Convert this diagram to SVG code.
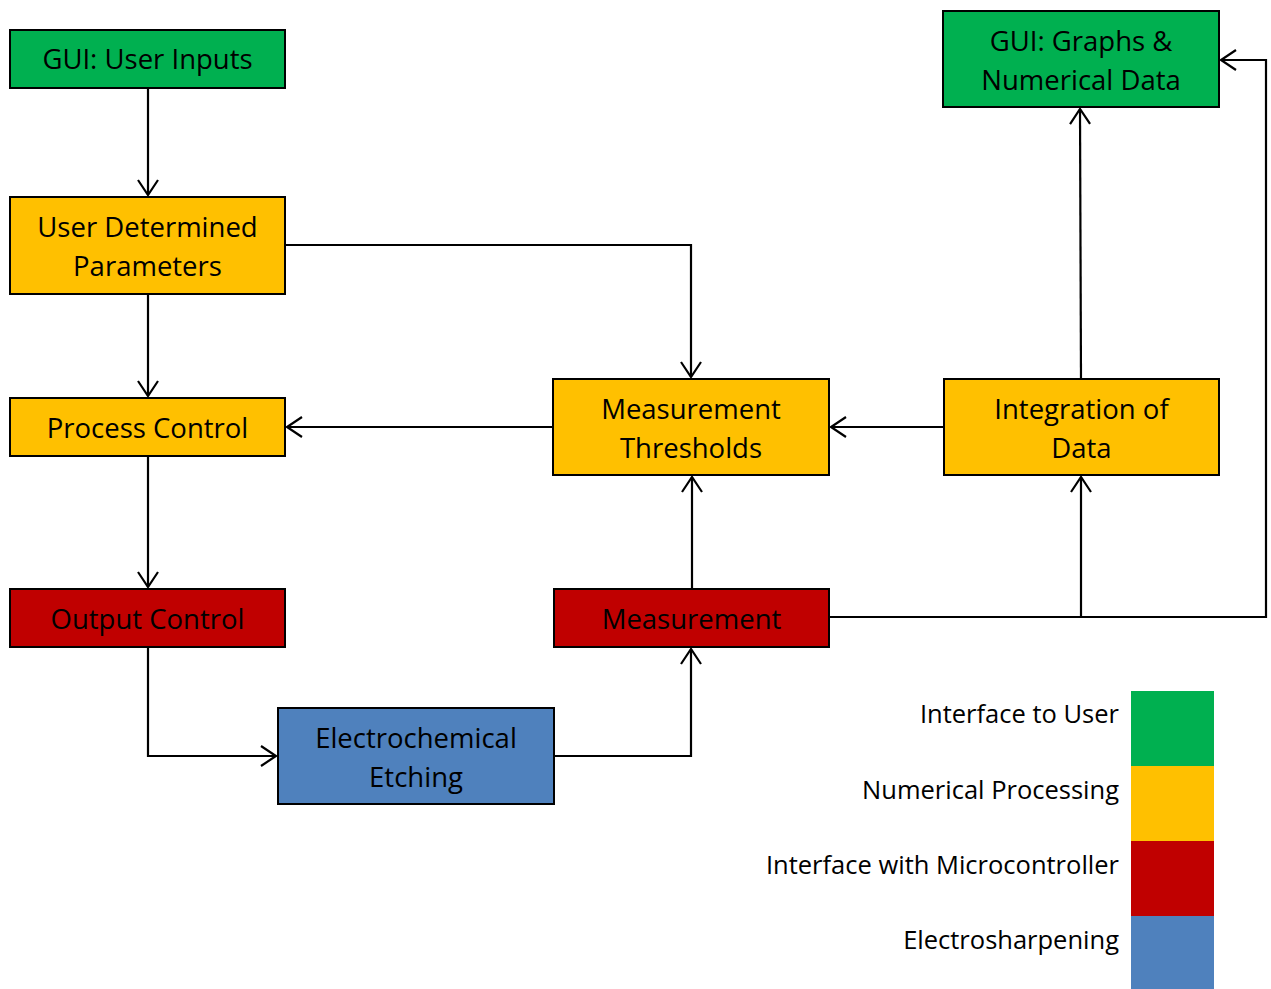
<svg xmlns="http://www.w3.org/2000/svg" width="1271" height="989" viewBox="0 0 1271 989">
<style>
.box{stroke:#000;stroke-width:2}
.g{fill:#00B050}.y{fill:#FFC000}.r{fill:#C00000}.b{fill:#4F81BD}
text{font-family:"Open Sans","Noto Sans",sans-serif;font-size:27.5px;fill:#000}
.c{text-anchor:middle}
.l{text-anchor:end;font-size:25.5px}
.con{fill:none;stroke:#000;stroke-width:2.2}
</style>
<defs>
<marker id="a" markerWidth="20" markerHeight="24" refX="17" refY="12" orient="auto" markerUnits="userSpaceOnUse">
<path d="M2,2 L17,12 L2,22" fill="none" stroke="#000" stroke-width="2.2"/>
</marker>
</defs>
<rect width="1271" height="989" fill="#fff"/>
<g id="connectors">
<path class="con" d="M148,88 V195" marker-end="url(#a)"/>
<path class="con" d="M148,294 V396" marker-end="url(#a)"/>
<path class="con" d="M285,245 H691 V377" marker-end="url(#a)"/>
<path class="con" d="M553,427 H287" marker-end="url(#a)"/>
<path class="con" d="M944,427 H831" marker-end="url(#a)"/>
<path class="con" d="M148,456 V587" marker-end="url(#a)"/>
<path class="con" d="M148,647 V756 H276" marker-end="url(#a)"/>
<path class="con" d="M554,756 H691 V649" marker-end="url(#a)"/>
<path class="con" d="M692,589 V477" marker-end="url(#a)"/>
<path class="con" d="M829,617 H1266 V60 H1221" marker-end="url(#a)"/>
<path class="con" d="M1081,617 V477" marker-end="url(#a)"/>
<path class="con" d="M1081,379 L1080,109" marker-end="url(#a)"/>
</g>
<g id="gui-inputs"><rect class="box g" x="10" y="30" width="275" height="58"/><text class="c" x="147.5" y="69">GUI: User Inputs</text></g>
<g id="user-params"><rect class="box y" x="10" y="197" width="275" height="97"/><text class="c" x="147.5" y="237">User Determined</text><text class="c" x="147.5" y="276">Parameters</text></g>
<g id="process-control"><rect class="box y" x="10" y="398" width="275" height="58"/><text class="c" x="147.5" y="438">Process Control</text></g>
<g id="output-control"><rect class="box r" x="10" y="589" width="275" height="58"/><text class="c" x="147.5" y="629">Output Control</text></g>
<g id="etching"><rect class="box b" x="278" y="708" width="276" height="96"/><text class="c" x="416" y="748">Electrochemical</text><text class="c" x="416" y="787">Etching</text></g>
<g id="thresholds"><rect class="box y" x="553" y="379" width="276" height="96"/><text class="c" x="691" y="419">Measurement</text><text class="c" x="691" y="458">Thresholds</text></g>
<g id="measurement"><rect class="box r" x="554" y="589" width="275" height="58"/><text class="c" x="691.5" y="629">Measurement</text></g>
<g id="integration"><rect class="box y" x="944" y="379" width="275" height="96"/><text class="c" x="1081.5" y="419">Integration of</text><text class="c" x="1081.5" y="458">Data</text></g>
<g id="gui-graphs"><rect class="box g" x="943" y="11" width="276" height="96"/><text class="c" x="1081" y="51">GUI: Graphs &amp;</text><text class="c" x="1081" y="90">Numerical Data</text></g>
<g id="legend">
<rect class="g" x="1131" y="691" width="83" height="76"/>
<rect class="y" x="1131" y="766" width="83" height="76"/>
<rect class="r" x="1131" y="841" width="83" height="76"/>
<rect class="b" x="1131" y="916" width="83" height="73"/>
<text class="l" x="1119" y="723">Interface to User</text>
<text class="l" x="1119" y="799">Numerical Processing</text>
<text class="l" x="1119" y="874">Interface with Microcontroller</text>
<text class="l" x="1119" y="949">Electrosharpening</text>
</g>
</svg>
